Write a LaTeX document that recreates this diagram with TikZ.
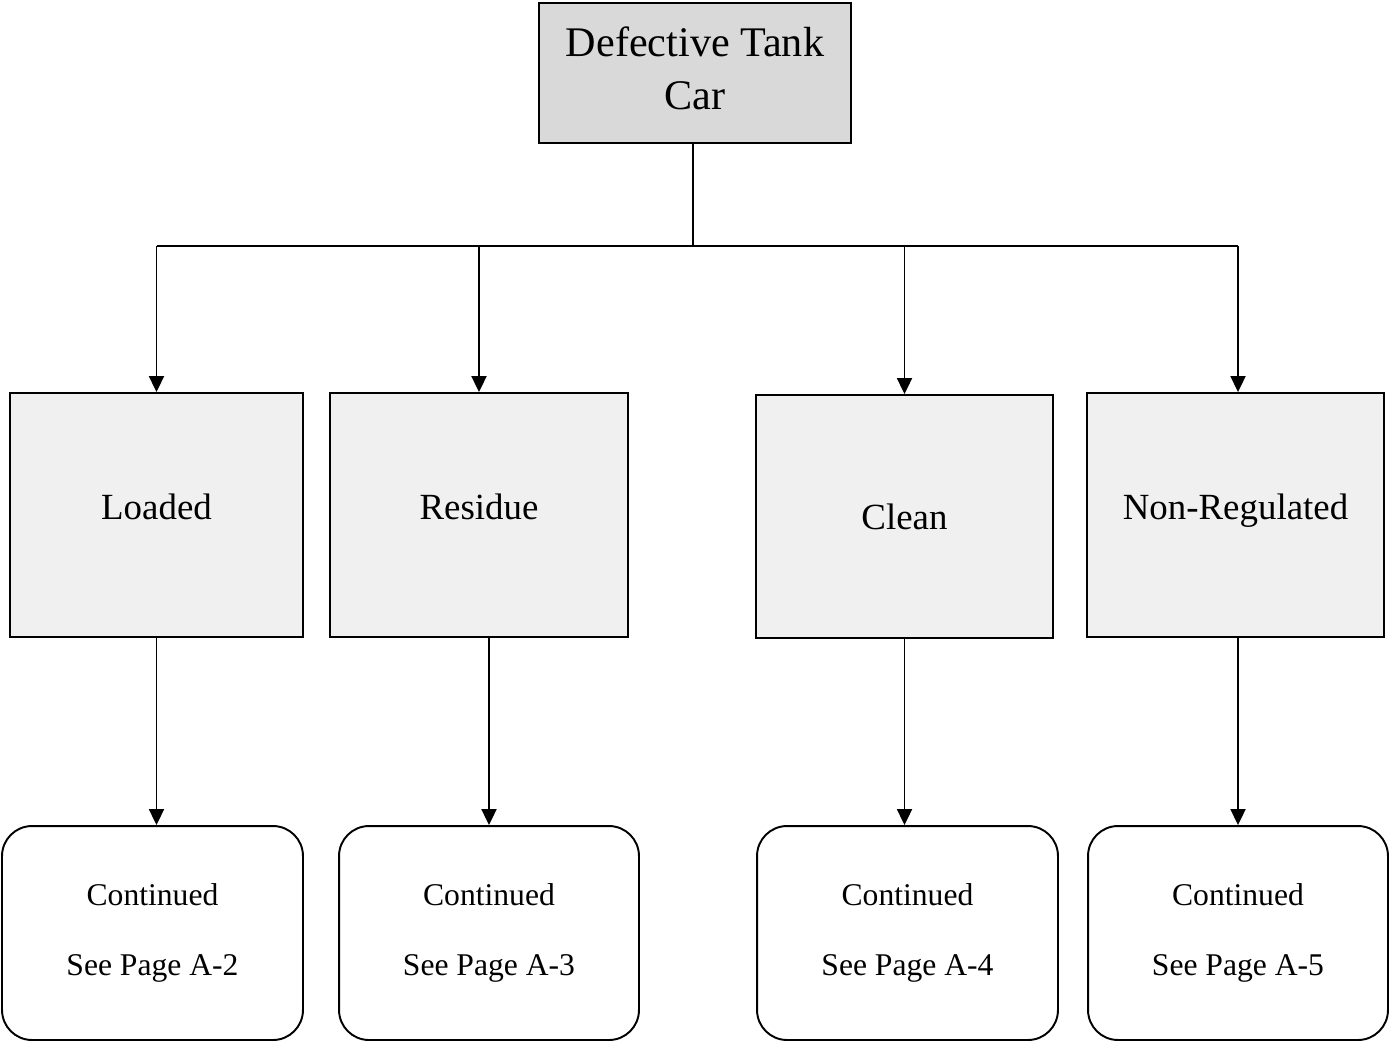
\documentclass[tikz,border=0pt]{standalone}
\usepackage{fontspec}
\setmainfont{Liberation Serif}
\usetikzlibrary{arrows.meta}
\tikzset{
  topbox/.style={draw,line width=1.1pt,fill=black!15,inner sep=0pt},
  toptext/.style={yshift=2.8pt,inner sep=0pt,align=center,font=\fontsize{24}{30}\selectfont},
  midbox/.style={draw,line width=1.1pt,fill=black!6,inner sep=0pt,minimum height=4.88cm,
    font=\fontsize{21}{26}\selectfont},
  midtext/.style={yshift=4.5pt,inner sep=0pt,text depth=0pt,font=\fontsize{21}{26}\selectfont},
  endbox/.style={draw,line width=1.1pt,rounded corners=0.6cm,inner sep=0pt,align=center,
    minimum width=6.02cm,minimum height=4.28cm,font=\fontsize{18}{40}\selectfont},
  link/.style={line width=1.1pt},
}
\begin{document}
\begin{tikzpicture}[x=0.02cm,y=-0.02cm,>={Triangle[length=0.32cm,width=0.3cm]}]
  \useasboundingbox (0,0) rectangle (1389,1042);
  \node[topbox,minimum width=6.24cm,minimum height=2.8cm,
    label={[toptext]center:Defective Tank\\Car}] (tank) at (695,73) {};
  \coordinate (split) at (693,246);
  % second row
  \node[midbox,minimum width=5.86cm,label={[midtext]center:Loaded}] (loaded) at (156.5,515) {};
  \node[midbox,minimum width=5.96cm,label={[midtext]center:Residue}] (residue) at (479,515) {};
  \node[midbox,minimum width=5.94cm,minimum height=4.86cm] (clean) at (904.5,516.5) {Clean};
  \node[midbox,minimum width=5.94cm,label={[midtext]center:Non-Regulated}] (nonreg) at (1235.5,515) {};
  % continuation boxes
  \node[endbox] (pageA2) at (152.5,933) {Continued\\See Page A-2};
  \node[endbox,minimum width=6cm] (pageA3) at (489,933) {Continued\\See Page A-3};
  \node[endbox] (pageA4) at (907.5,933) {Continued\\See Page A-4};
  \node[endbox,minimum width=6cm] (pageA5) at (1238,933) {Continued\\See Page A-5};
  % connectors
  \draw[link] (tank.south -| split) -- (split);
  \draw[link] (loaded.north |- split) -- (pageA5.north |- split);
  \foreach \category/\column in {loaded/loaded,residue/residue,clean/clean,nonreg/pageA5}{
    \draw[link,->] (\column.north |- split) -- (\column.north |- \category.north);
  }
  \draw[link,->] (loaded.south) -- (loaded.south |- pageA2.north);
  \draw[link,->] (pageA3.north |- residue.south) -- (pageA3.north);
  \draw[link,->] (clean.south) -- (clean.south |- pageA4.north);
  \draw[link,->] (pageA5.north |- nonreg.south) -- (pageA5.north);
\end{tikzpicture}
\end{document}
